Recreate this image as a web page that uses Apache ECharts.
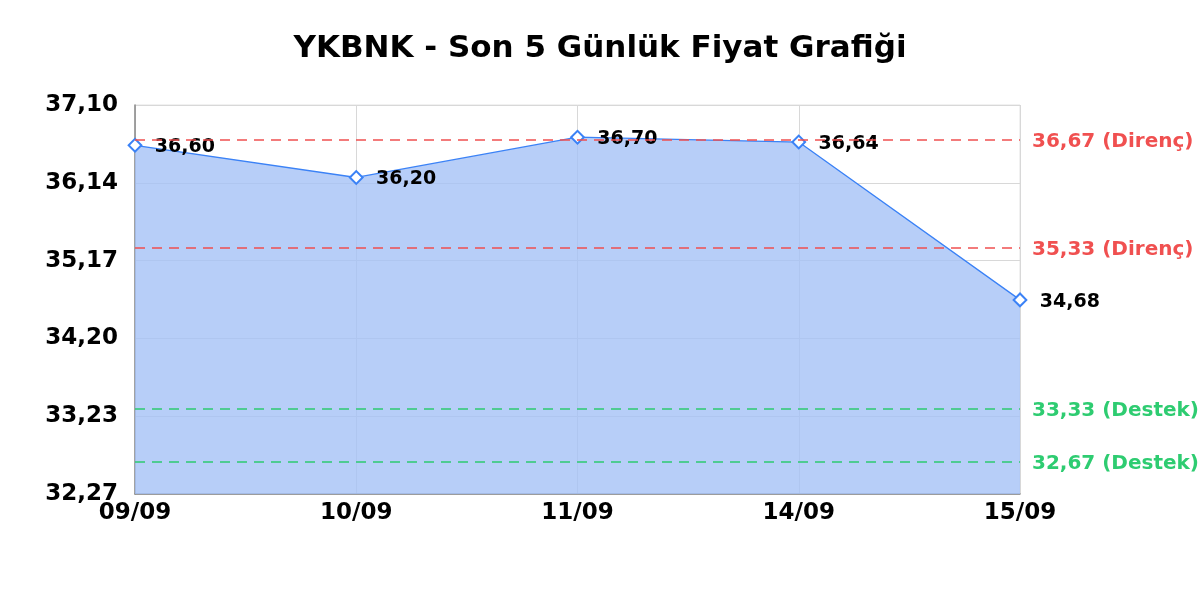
<!DOCTYPE html>
<html><head><meta charset="utf-8">
<script src="https://cdn.jsdelivr.net/npm/echarts@6/dist/echarts.min.js"></script>
<style>html,body{margin:0;padding:0;background:#fff}#c{width:1200px;height:600px}</style>
</head><body><div id="c"></div>
<script>
const titleText = 'YKBNK - Son 5 Günlük Fiyat Grafiği';
const categories = ['09/09','10/09','11/09','14/09','15/09'];
const prices = [36.60, 36.20, 36.70, 36.64, 34.68];
const yMin = 32.27, yMax = 37.10;
const yTickLabels = ['32,27','33,23','34,20','35,17','36,14','37,10'];
const resistanceLevels = [36.67, 35.33];
const supportLevels = [33.33, 32.67];
const FONT = 'DejaVu Sans';
const fmt = v => v.toFixed(2).replace('.', ',');
const interval = (yMax - yMin) / (yTickLabels.length - 1);

const markData = [];
resistanceLevels.forEach(v => markData.push({yAxis: v, name: 'Direnç',
  lineStyle: {color: '#f05050'}, label: {color: '#f05050', formatter: fmt(v) + ' (Direnç)'}}));
supportLevels.forEach(v => markData.push({yAxis: v, name: 'Destek',
  lineStyle: {color: '#2ecc71'}, label: {color: '#2ecc71', formatter: fmt(v) + ' (Destek)'}}));

const chart = echarts.init(document.getElementById('c'), null, {renderer: 'canvas'});
chart.setOption({
  animation: false,
  title: {text: titleText, left: 'center', top: 28,
    textStyle: {fontFamily: FONT, fontWeight: 'bold', fontSize: 31, color: '#000'}},
  grid: {left: 135, right: 180, top: 105, bottom: 106, show: true, borderColor: '#e3e3e3', borderWidth: 1},
  xAxis: {type: 'category', data: categories, boundaryGap: false,
    axisLine: {show: true, lineStyle: {color: '#888', width: 1.5}},
    axisTick: {show: false},
    splitLine: {show: true, lineStyle: {color: '#d8d8d8'}},
    axisLabel: {fontFamily: FONT, fontWeight: 'bold', fontSize: 23, color: '#000', margin: 8}},
  yAxis: {type: 'value', min: yMin, max: yMax, interval: interval,
    axisLine: {show: true, lineStyle: {color: '#888', width: 1.5}},
    axisTick: {show: false},
    splitLine: {show: true, lineStyle: {color: '#d8d8d8'}},
    axisLabel: {fontFamily: FONT, fontWeight: 'bold', fontSize: 23, color: '#000', margin: 17,
      formatter: v => yTickLabels[Math.round((v - yMin) / interval)]}},
  series: [{
    type: 'line', data: prices,
    symbol: 'rect', symbolSize: 9, symbolRotate: 45,
    itemStyle: {color: '#fff', borderColor: '#3b82f6', borderWidth: 2},
    lineStyle: {color: '#3b82f6', width: 1.3},
    areaStyle: {color: 'rgba(165,194,246,0.8)', opacity: 1},
    label: {show: true, position: 'right', distance: 12, offset: [0, 2], fontFamily: FONT, fontWeight: 'bold',
      fontSize: 19, color: '#000', formatter: p => fmt(p.value)},
    markLine: {silent: true, symbol: 'none',
      lineStyle: {type: [10, 7], width: 1.5},
      label: {position: 'end', distance: 12, offset: [0, 2], fontFamily: FONT, fontWeight: 'bold', fontSize: 20},
      data: markData}
  }]
});
</script></body></html>
